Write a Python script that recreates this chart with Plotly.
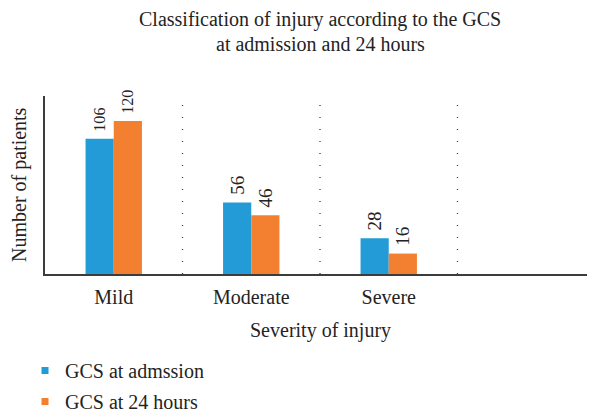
import plotly.graph_objects as go

categories = ['Mild', 'Moderate', 'Severe']
gcs_admission = [106, 56, 28]
gcs_24h = [120, 46, 16]
series_names = ['GCS at admssion', 'GCS at 24 hours']
title_lines = ['Classification of injury according to the GCS', 'at admission and 24 hours']

blue = 'rgb(34,155,214)'
orange = 'rgb(242,128,48)'
txt = 'rgb(35,35,35)'
serif = 'Liberation Serif, DejaVu Serif, serif'

def f(size):
    return dict(family=serif, size=size, color=txt)

# page body has an 8px margin, so layout positions are offset by -8
fig = go.Figure()
for vals, col in [(gcs_admission, blue), (gcs_24h, orange)]:
    fig.add_trace(go.Bar(
        x=categories, y=vals,
        marker=dict(color=col, line=dict(width=0)),
        text=[' ' + str(v) for v in vals],
        textposition='outside', textangle=-90,
        textfont=f(19),
        cliponaxis=False,
        showlegend=False,
    ))

# legend entries as small squares
for i, (name, col) in enumerate(zip(series_names, [blue, orange])):
    fig.add_trace(go.Scatter(
        x=[None], y=[None], mode='markers', name=name, legendgroup='g%d' % i,
        marker=dict(symbol='square', size=7, color=col),
    ))

# dotted separators between categories
for xs in [0.5, 1.5, 2.5]:
    fig.add_shape(type='line', xref='x', yref='paper', x0=xs, x1=xs, y0=0, y1=1,
                  line=dict(color='rgb(60,60,60)', width=1.3, dash='1px,11px'))

# title (two lines), axis titles
fig.add_annotation(text=title_lines[0], xref='paper', yref='paper', x=0.5, y=1,
                   yshift=77, yanchor='middle', showarrow=False, font=f(20))
fig.add_annotation(text=title_lines[1], xref='paper', yref='paper', x=0.5, y=1,
                   yshift=52, yanchor='middle', showarrow=False, font=f(20))
fig.add_annotation(text='Severity of injury', xref='paper', yref='paper', x=0.5, y=0,
                   yshift=-56, yanchor='middle', showarrow=False, font=f(20))
fig.add_annotation(text='Number of patients', xref='paper', yref='paper', x=0, y=0.5,
                   xshift=-26, xanchor='center', yanchor='middle', textangle=-90,
                   showarrow=False, font=f(20))

fig.update_layout(
    width=595, height=413,
    margin=dict(l=37, r=8, t=88, b=147, autoexpand=False),
    paper_bgcolor='white', plot_bgcolor='white',
    barmode='group', bargap=0.59, bargroupgap=0,
    font=f(20),
    xaxis=dict(range=[-0.5, 3.5], showline=True, linecolor='rgb(60,60,60)', linewidth=1.5,
               showgrid=False, ticks='', tickfont=f(20), automargin=False,
               ticklabelstandoff=4),
    yaxis=dict(range=[0, 139.5], showline=True, linecolor='rgb(60,60,60)', linewidth=1.5,
               showgrid=False, zeroline=False, showticklabels=False, ticks='',
               automargin=False),
    legend=dict(xref='container', yref='container', x=17 / 595, xanchor='left',
                y=1 - 343 / 413, yanchor='top', orientation='v',
                font=f(20), itemwidth=30, tracegroupgap=2,
                bgcolor='rgba(0,0,0,0)'),
)

fig.write_html('out.html')
